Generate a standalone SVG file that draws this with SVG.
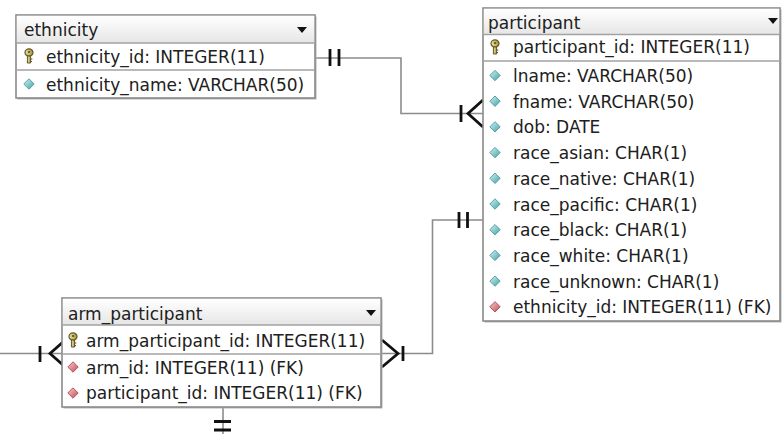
<svg xmlns="http://www.w3.org/2000/svg" xmlns:xlink="http://www.w3.org/1999/xlink" width="782" height="434" viewBox="0 0 782 434">
  <defs>
    <linearGradient id="hdr" x1="0" y1="0" x2="0" y2="1">
      <stop offset="0" stop-color="#ffffff"/>
      <stop offset="1" stop-color="#e6e6e6"/>
    </linearGradient>
    <linearGradient id="teal" x1="0" y1="0" x2="1" y2="1">
      <stop offset="0" stop-color="#d6f4f4"/>
      <stop offset="1" stop-color="#3f9fa6"/>
    </linearGradient>
    <linearGradient id="red" x1="0" y1="0" x2="1" y2="1">
      <stop offset="0" stop-color="#f6d0d0"/>
      <stop offset="1" stop-color="#c04a55"/>
    </linearGradient>
    <linearGradient id="gold" x1="0" y1="0" x2="1" y2="0">
      <stop offset="0" stop-color="#f0e6a8"/>
      <stop offset="1" stop-color="#a89538"/>
    </linearGradient>
    <!-- column icons -->
    <g id="key">
      <ellipse cx="0" cy="-3.5" rx="4" ry="3.6" fill="url(#gold)" stroke="#5f5628" stroke-width="1.2"/>
      <ellipse cx="0" cy="-4" rx="1.3" ry="1.1" fill="#5f5628"/>
      <path d="M-1.6,0 H1.6 V7 H-1.6 Z" fill="url(#gold)" stroke="#5f5628" stroke-width="1"/>
      <path d="M1.6,3 H3.4 M1.6,5.5 H3" stroke="#5f5628" stroke-width="1.2"/>
    </g>
    <path id="col" d="M0,-5.2 L5.2,0 L0,5.2 L-5.2,0 Z" fill="url(#teal)" stroke="#4a9aa0" stroke-width="0.9"/>
    <path id="fk" d="M0,-5.2 L5.2,0 L0,5.2 L-5.2,0 Z" fill="url(#red)" stroke="#b04a52" stroke-width="0.9"/>
    <path id="drop" d="M-5,-3 H5 L0,3 Z" fill="#111"/>
  </defs>
  <style>
    .shadow { fill: #b4b4b4; }
    .box { fill: #ffffff; stroke: #8a8a8a; stroke-width: 1.6; }
    .head { fill: url(#hdr); }
    .sep { stroke: #a2a2a2; stroke-width: 1.5; }
    text { font-family: "DejaVu Sans", Verdana, sans-serif; font-size: 17px; fill: #202020; }
    .link { fill: none; stroke: #8c8c8c; stroke-width: 1.6; }
    .mark { fill: none; stroke: #111; stroke-width: 2.8; }
  </style>

  <rect x="0" y="0" width="782" height="434" fill="#ffffff"/>

  <!-- relationship lines and cardinality marks -->
  <g id="connectors">
    <!-- ethnicity -> participant -->
    <path class="link" d="M315,58 H401 V113.5 H483"/>
    <path class="mark" d="M330,49 V66 M339,49 V66"/>
    <path class="mark" d="M461,105 V122 M483,100 L468,113.5 L483,127"/>
    <!-- participant -> arm_participant -->
    <path class="link" d="M483,220 H432.5 V353.5 H381"/>
    <path class="mark" d="M459,212 V228 M467.5,212 V228"/>
    <path class="mark" d="M403,346 V361 M382,340 L398,353.5 L382,367"/>
    <!-- arm -> arm_participant -->
    <path class="link" d="M0,353.5 H62"/>
    <path class="mark" d="M40,346 V362 M63,342 L50,353.5 L63,365"/>
    <!-- arm_participant bottom link -->
    <path class="link" d="M223,407 V434"/>
    <path class="mark" d="M214,421.5 H231 M214,430 H231"/>
  </g>

  <!-- ethnicity table -->
  <g id="ethnicity">
    <rect class="shadow" x="17.5" y="16.5" width="299" height="83"/>
    <rect class="box" x="16" y="15" width="299" height="83"/>
    <rect class="head" x="16.8" y="15.8" width="297.4" height="27"/>
    <path class="sep" d="M16,43 H315 M16,70 H315"/>
    <text x="24" y="36">ethnicity</text>
    <use href="#drop" x="302" y="30"/>
    <use href="#key" x="29" y="56"/>
    <text x="46" y="63">ethnicity_id: INTEGER(11)</text>
    <use href="#col" x="29" y="84"/>
    <text x="46" y="91">ethnicity_name: VARCHAR(50)</text>
  </g>

  <!-- participant table -->
  <g id="participant">
    <rect class="shadow" x="484.5" y="9.5" width="297" height="313"/>
    <rect class="box" x="483" y="8" width="297" height="313"/>
    <rect class="head" x="483.8" y="8.8" width="295.4" height="25.5"/>
    <path class="sep" d="M483,34.5 H780 M483,61 H780"/>
    <text x="488" y="29">participant</text>
    <use href="#drop" x="773" y="21"/>
    <use href="#key" x="495" y="47"/>
    <text x="513" y="53">participant_id: INTEGER(11)</text>
    <use href="#col" x="495" y="75.5"/>
    <text x="513" y="82">lname: VARCHAR(50)</text>
    <use href="#col" x="495" y="101.2"/>
    <text x="513" y="107.7">fname: VARCHAR(50)</text>
    <use href="#col" x="495" y="126.9"/>
    <text x="513" y="133.4">dob: DATE</text>
    <use href="#col" x="495" y="152.6"/>
    <text x="513" y="159.1">race_asian: CHAR(1)</text>
    <use href="#col" x="495" y="178.3"/>
    <text x="513" y="184.8">race_native: CHAR(1)</text>
    <use href="#col" x="495" y="204"/>
    <text x="513" y="210.5">race_pacific: CHAR(1)</text>
    <use href="#col" x="495" y="229.7"/>
    <text x="513" y="236.2">race_black: CHAR(1)</text>
    <use href="#col" x="495" y="255.4"/>
    <text x="513" y="261.9">race_white: CHAR(1)</text>
    <use href="#col" x="495" y="281.1"/>
    <text x="513" y="287.6">race_unknown: CHAR(1)</text>
    <use href="#fk" x="495" y="306.8"/>
    <text x="513" y="313.3">ethnicity_id: INTEGER(11) (FK)</text>
  </g>

  <!-- arm_participant table -->
  <g id="arm_participant">
    <rect class="shadow" x="63.5" y="299.5" width="319" height="109"/>
    <rect class="box" x="62" y="298" width="319" height="109"/>
    <rect class="head" x="62.8" y="298.8" width="317.4" height="26"/>
    <path class="sep" d="M62,325 H381 M62,354 H381"/>
    <text x="68" y="320">arm_participant</text>
    <use href="#drop" x="371" y="313"/>
    <use href="#key" x="73" y="340"/>
    <text x="86" y="347">arm_participant_id: INTEGER(11)</text>
    <use href="#fk" x="73" y="367"/>
    <text x="86" y="373.5">arm_id: INTEGER(11) (FK)</text>
    <use href="#fk" x="73" y="393"/>
    <text x="86" y="399">participant_id: INTEGER(11) (FK)</text>
  </g>
</svg>
